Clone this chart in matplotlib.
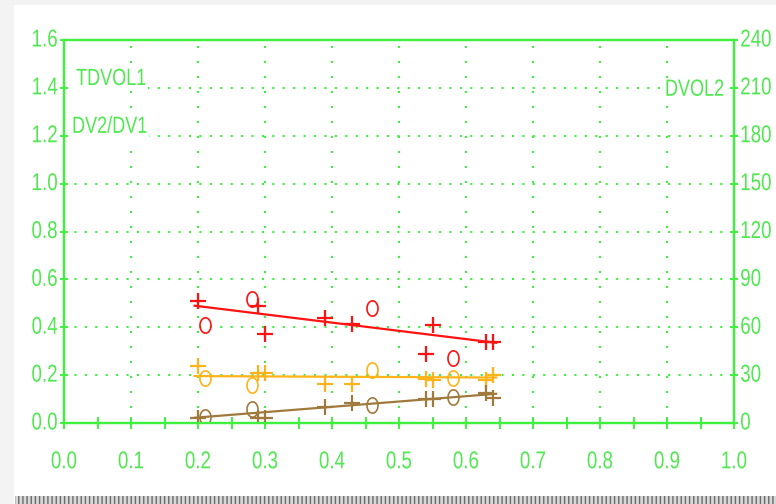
import numpy as np
import matplotlib
matplotlib.use("Agg")
import matplotlib.pyplot as plt
from matplotlib.path import Path
from matplotlib.patches import Rectangle
from matplotlib.transforms import Affine2D
from matplotlib import patheffects

# ---- data -------------------------------------------------------------
plus_x = [0.20, 0.29, 0.30, 0.39, 0.43, 0.54, 0.55, 0.63, 0.64]
circle_x = [0.21, 0.28, 0.46, 0.58]

red_plus = [0.51, 0.49, 0.37, 0.44, 0.415, 0.29, 0.41, 0.34, 0.34]
red_circle = [0.41, 0.52, 0.48, 0.27]
orange_plus = [0.24, 0.21, 0.21, 0.165, 0.165, 0.185, 0.18, 0.18, 0.20]
orange_circle = [0.187, 0.16, 0.22, 0.187]
brown_plus = [0.02, 0.02, 0.02, 0.068, 0.082, 0.10, 0.10, 0.124, 0.103]
brown_circle = [0.026, 0.059, 0.075, 0.11]

fit_x = [0.195, 0.645]
red_fit = [0.49, 0.335]
orange_fit = [0.196, 0.19]
brown_fit = [0.022, 0.122]

x_ticks = [0.0, 0.1, 0.2, 0.3, 0.4, 0.5, 0.6, 0.7, 0.8, 0.9, 1.0]
left_ticks = [0.0, 0.2, 0.4, 0.6, 0.8, 1.0, 1.2, 1.4, 1.6]
right_ticks = [0, 30, 60, 90, 120, 150, 180, 210, 240]

# ---- style ------------------------------------------------------------
GREEN = "#3ff03f"
TEXT = "#4fe84f"
RED = "#ff1212"
ORANGE = "#ffb31a"
BROWN = "#a07a3c"
plt.rcParams["font.family"] = ["Liberation Sans", "DejaVu Sans"]


class TallGlyphs(patheffects.AbstractPathEffect):
    """Draw glyphs stretched vertically about their baseline."""

    def __init__(self, sy):
        super().__init__()
        self.sy = sy

    def draw_path(self, renderer, gc, tpath, affine, rgbFace=None):
        renderer.draw_path(gc, tpath, Affine2D().scale(1.0, self.sy) + affine,
                           rgbFace)


TALL = [TallGlyphs(1.3)]

W, H = 776, 504
fig = plt.figure(figsize=(W / 100, H / 100), dpi=100)
fig.patch.set_facecolor("white")

# window frame: light strips on left/top, hatched strip at the bottom
fig.patches.append(Rectangle((0, 0), 14 / W, 1, transform=fig.transFigure,
                             facecolor="#f3f3f3", edgecolor="none", zorder=-5))
fig.patches.append(Rectangle((0, 1 - 5 / H), 1, 5 / H, transform=fig.transFigure,
                             facecolor="#f3f3f3", edgecolor="none", zorder=-5))
fig.patches.append(Rectangle((15 / W, 0), 1, 8 / H, transform=fig.transFigure,
                             facecolor="#d8d8d8", edgecolor="#6a6a6a", hatch="||||",
                             linewidth=0, zorder=-4))

ax = fig.add_axes([64 / W, (H - 423) / H, 670 / W, 383 / H])
ax.set_facecolor("white")
ax.set_xlim(0, 1.0)
ax.set_ylim(0, 1.6)

# dotted grid
ax.set_xticks(x_ticks)
ax.set_xticks(np.arange(0.05, 1.0, 0.1), minor=True)
ax.set_yticks(left_ticks)
for xv in x_ticks[1:-1]:
    ax.axvline(xv, color=GREEN, lw=1.5, linestyle=(0, (1, 6.2)), zorder=0)
for yv in left_ticks[1:-1]:
    ax.axhline(yv, color=GREEN, lw=1.5, linestyle=(0, (1, 4.0)), zorder=0)

# ellipse marker (taller than wide)
t = np.linspace(0, 2 * np.pi, 40)
ellipse = Path(np.column_stack([0.72 * np.cos(t), np.sin(t)]), closed=True)

series = [
    (red_plus, red_circle, red_fit, RED),
    (orange_plus, orange_circle, orange_fit, ORANGE),
    (brown_plus, brown_circle, brown_fit, BROWN),
]
for p_vals, c_vals, f_vals, col in series:
    ax.plot(fit_x, f_vals, color=col, lw=1.6, zorder=3)
    ax.plot(plus_x, p_vals, linestyle="none", marker="+", ms=11, mew=1.6,
            color=col, zorder=4)
    ax.plot(circle_x, c_vals, linestyle="none", marker=ellipse, ms=11,
            mfc="none", mec=col, mew=1.2, zorder=4)

# right axis
ax2 = ax.twinx()
ax2.set_ylim(0, 240)
ax2.set_yticks(right_ticks)

for a in (ax, ax2):
    for s in a.spines.values():
        s.set_color(GREEN)
        s.set_linewidth(1.6)

ax.tick_params(axis="x", which="both", direction="inout", length=8.5, width=1.4,
               color=GREEN, labelcolor=TEXT, labelsize=13.5, pad=19)
ax.tick_params(axis="y", direction="inout", length=6, width=1.4,
               color=GREEN, labelcolor=TEXT, labelsize=13.5, pad=1.5)
ax2.tick_params(axis="y", direction="inout", length=6, width=1.4,
                color=GREEN, labelcolor=TEXT, labelsize=13.5, pad=1.5)
ax.set_xticklabels([f"{v:.1f}" for v in x_ticks])
ax.set_yticklabels([f"{v:.1f}" for v in left_ticks])
ax2.set_yticklabels([str(v) for v in right_ticks])
for lab in ax.get_xticklabels() + ax.get_yticklabels() + ax2.get_yticklabels():
    lab.set_path_effects(TALL)

# axis captions inside the plot, on a white patch that hides the grid
cap_kw = dict(color=TEXT, fontsize=13, path_effects=TALL, zorder=5,
              bbox=dict(facecolor="white", edgecolor="none", pad=1.5))
ax.text(0.018, 1.412, "TDVOL1", ha="left", va="baseline", **cap_kw)
ax.text(0.012, 1.212, "DV2/DV1", ha="left", va="baseline", **cap_kw)
ax.text(0.985, 1.367, "DVOL2", ha="right", va="baseline", **cap_kw)

fig.savefig("out.png", dpi=100)
